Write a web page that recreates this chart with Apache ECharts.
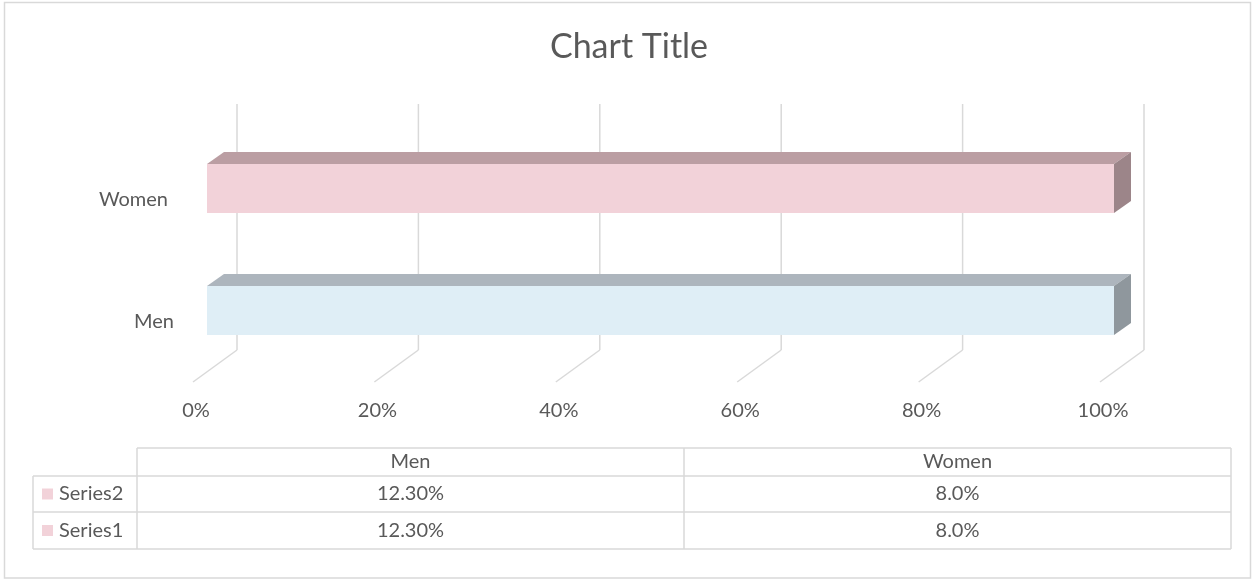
<!DOCTYPE html>
<html>
<head>
<meta charset="utf-8">
<script src="https://cdn.jsdelivr.net/npm/echarts@6/dist/echarts.min.js"></script>
<style>
  html, body { margin: 0; padding: 0; background: #fff; }
  #chart { width: 1258px; height: 584px; }
</style>
</head>
<body>
<div id="chart"></div>
<script>
  'use strict'

  // data
  var categories = ['Men', 'Women'];
  var seriesNames = ['Series1', 'Series2'];
  var series1 = [12.30, 8.0];
  var series2 = [12.30, 8.0];
  var decimals = [2, 1];
  var ticks = [0, 20, 40, 60, 80, 100];

  var textColor = '#595959';
  var lineColor = '#D9D9D9';
  var fontFamily = 'Lato, "Open Sans", sans-serif';

  // 3d look: front / top / side shades per category
  var faceColors = [
    { front: '#DFEEF6', top: '#ADB5BD', side: '#8F979D' },
    { front: '#F2D2D9', top: '#BB9EA3', side: '#9C8589' }
  ];
  var depthX = 17, depthY = 12;

  // 100% stacked shares
  var stackRows = [series1, series2];
  var stacked = stackRows.map(function (row, si) {
    return row.map(function (v, ci) {
      var total = 0, before = 0;
      stackRows.forEach(function (r, k) {
        total += r[ci];
        if (k < si) before += r[ci];
      });
      return [before / total * 100, (before + v) / total * 100, ci];
    });
  });

  function renderBar(params, api) {
    var s = api.coord([api.value(0), api.value(2)]);
    var e = api.coord([api.value(1), api.value(2)]);
    var h = api.size([0, 1])[1] * 0.4;
    var c = faceColors[api.value(2)];
    // whole-pixel rows so stacked pieces meet without a seam
    var top = Math.round(s[1] - h / 2), bottom = Math.round(s[1] + h / 2);
    var isLast = params.seriesIndex === stackRows.length;
    var x0 = s[0], x1 = isLast ? e[0] : e[0] + 3;
    var kids = [
      { type: 'polygon', shape: { points: [[x0, top], [x0 + depthX, top - depthY], [x1 + depthX, top - depthY], [x1, top]] },
        style: { fill: c.top } },
      { type: 'rect', shape: { x: x0, y: top, width: x1 - x0, height: bottom - top },
        style: { fill: c.front } }
    ];
    if (isLast) {
      kids.push({ type: 'polygon', shape: { points: [[x1, top], [x1 + depthX, top - depthY], [x1 + depthX, bottom - depthY], [x1, bottom]] },
        style: { fill: c.side } });
    }
    return { type: 'group', children: kids };
  }

  function renderWall(params, api) {
    var p = api.coord([api.value(0), 0]);
    var cs = params.coordSys;
    var bx = p[0] + 30;
    var floorBack = cs.y + cs.height - 21.5;
    return {
      type: 'group',
      children: [
        { type: 'line', shape: { x1: bx, y1: cs.y - 23.5, x2: bx, y2: floorBack },
          style: { stroke: lineColor, lineWidth: 1.5 } },
        { type: 'line', shape: { x1: bx, y1: floorBack, x2: p[0] - 14, y2: cs.y + cs.height + 10.5 },
          style: { stroke: lineColor, lineWidth: 1.5 } }
      ]
    };
  }

  // data table graphics
  var colX = [33, 137, 684, 1231];
  var rowY = [448, 476, 512, 549];
  var tableEls = [];
  function hline(x1, x2, y) {
    tableEls.push({ type: 'line', shape: { x1: x1, y1: y, x2: x2, y2: y }, style: { stroke: lineColor, lineWidth: 1.5 } });
  }
  function vline(x, y1, y2) {
    tableEls.push({ type: 'line', shape: { x1: x, y1: y1, x2: x, y2: y2 }, style: { stroke: lineColor, lineWidth: 1.5 } });
  }
  hline(colX[1], colX[3], rowY[0]);
  hline(colX[0], colX[3], rowY[1]);
  hline(colX[0], colX[3], rowY[2]);
  hline(colX[0], colX[3], rowY[3]);
  vline(colX[0], rowY[1], rowY[3]);
  vline(colX[1], rowY[0], rowY[3]);
  vline(colX[2], rowY[0], rowY[3]);
  vline(colX[3], rowY[0], rowY[3]);

  var cellFont = 'normal 20px ' + fontFamily;
  categories.forEach(function (cat, ci) {
    tableEls.push({ type: 'text', x: (colX[ci + 1] + colX[ci + 2]) / 2, y: (rowY[0] + rowY[1]) / 2,
      style: { text: cat, font: cellFont, fill: textColor, align: 'center', verticalAlign: 'middle' } });
  });
  // rows listed top-down: last series first
  var rowSeries = [1, 0];
  rowSeries.forEach(function (si, ri) {
    var yc = (rowY[ri + 1] + rowY[ri + 2]) / 2;
    tableEls.push({ type: 'rect', shape: { x: 42, y: yc - 5.5, width: 11, height: 11 }, style: { fill: faceColors[1].front } });
    tableEls.push({ type: 'text', x: 59, y: yc,
      style: { text: seriesNames[si], font: cellFont, fill: textColor, align: 'left', verticalAlign: 'middle' } });
    stackRows[si].forEach(function (v, ci) {
      tableEls.push({ type: 'text', x: (colX[ci + 1] + colX[ci + 2]) / 2, y: yc,
        style: { text: v.toFixed(decimals[ci]) + '%', font: cellFont, fill: textColor, align: 'center', verticalAlign: 'middle' } });
    });
  });
  tableEls.push({ type: 'rect', shape: { x: 4.5, y: 2.5, width: 1246, height: 575.5 },
    style: { fill: 'none', stroke: lineColor, lineWidth: 1.5 }, z: -1 });

  var chart = echarts.init(document.getElementById('chart'), null, { renderer: 'canvas' });

  var option = {
    animation: false,
    backgroundColor: '#fff',
    title: {
      text: 'Chart Title',
      left: 'center',
      top: 25,
      textStyle: { fontFamily: fontFamily, fontSize: 34, fontWeight: 'normal', color: textColor }
    },
    grid: { left: 207, right: 144, top: 127.5, bottom: 212.5 },
    xAxis: {
      type: 'value',
      min: 0,
      max: 100,
      interval: 20,
      splitLine: { show: false },
      axisLine: { show: false },
      axisTick: { show: false },
      axisLabel: {
        margin: 29,
        padding: [0, 22, 0, 0],
        fontFamily: fontFamily,
        fontSize: 20,
        color: textColor,
        formatter: '{value}%'
      }
    },
    yAxis: {
      type: 'category',
      data: categories,
      axisLine: { show: false },
      axisTick: { show: false },
      splitLine: { show: false },
      axisLabel: {
        margin: 33,
        fontFamily: fontFamily,
        fontSize: 20,
        color: textColor,
        formatter: function (v) { return v === 'Women' ? '{w|' + v + '}' : '{m|' + v + '}'; },
        rich: {
          m: { fontFamily: fontFamily, fontSize: 20, color: textColor, padding: [23, 0, 0, 0] },
          w: { fontFamily: fontFamily, fontSize: 20, color: textColor, padding: [23, 6, 0, 0] }
        }
      }
    },
    series: [
      {
        type: 'custom',
        name: 'walls',
        z: 1,
        silent: true,
        renderItem: renderWall,
        encode: { x: 0 },
        data: ticks.map(function (t) { return [t]; })
      },
      {
        type: 'custom',
        name: seriesNames[0],
        z: 2,
        renderItem: renderBar,
        encode: { x: [0, 1], y: 2 },
        data: stacked[0]
      },
      {
        type: 'custom',
        name: seriesNames[1],
        z: 3,
        renderItem: renderBar,
        encode: { x: [0, 1], y: 2 },
        data: stacked[1]
      }
    ],
    graphic: tableEls
  };

  chart.setOption(option);
</script>
</body>
</html>
